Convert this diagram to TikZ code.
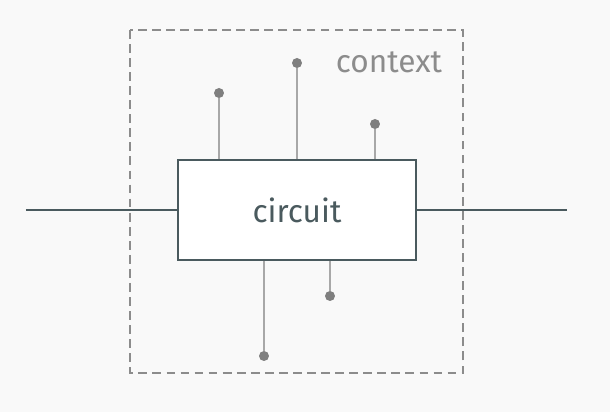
\documentclass[tikz,border=0pt]{standalone}
\usepackage{fontspec}
\setmainfont{Fira Sans}
\usetikzlibrary{positioning, shapes}

\definecolor{bg}{HTML}{F9F9F9}
\definecolor{wire}{HTML}{4A5A5E}
\definecolor{pin}{HTML}{A8A8A8}
\definecolor{pinhead}{HTML}{7F7F7F}
\definecolor{ctx}{HTML}{8C8C8C}

\tikzset{
    block/.style={rectangle, draw=wire, line width=0.7pt, fill=white, minimum width=4.76cm, minimum height=2cm, font=\fontsize{18}{20}\selectfont, text=wire},
    pinhead/.style={circle, fill=pinhead, inner sep=0pt, minimum size=0.2cm},
    pinline/.style={draw=pin, line width=0.8pt},
    wireline/.style={draw=wire, line width=0.7pt}
}

\begin{document}
\begin{tikzpicture}[x=0.02cm, y=-0.02cm]
                        \fill[bg] (0,0) rectangle (610,412);
                        \useasboundingbox (0,0) rectangle (610,412);

                        \draw[ctx, dashed, line width=0.6pt, dash pattern=on 5pt off 3pt] (130,30) rectangle (463,373);
                        \node[text=ctx, font=\fontsize{18}{20}\selectfont] (label) at (389,62) {context};

                        \coordinate (in) at (26,210);
                        \coordinate (out) at (567,210);
                        \draw[wireline] (in) -- (out);

                        \node[block] (circuit) at (297,210) {circuit};

                        \node[pinhead] (p1) at (219,93) {};
                        \node[pinhead] (p2) at (297,63) {};
                        \node[pinhead] (p3) at (375,124) {};
                        \node[pinhead] (p4) at (264,356) {};
                        \node[pinhead] (p5) at (330,296) {};

                        \draw[pinline] (p1) -- (p1 |- circuit.north);
                        \draw[pinline] (p2) -- (p2 |- circuit.north);
                        \draw[pinline] (p3) -- (p3 |- circuit.north);
                        \draw[pinline] (p4) -- (p4 |- circuit.south);
                        \draw[pinline] (p5) -- (p5 |- circuit.south);
                    \end{tikzpicture}
\end{document}
